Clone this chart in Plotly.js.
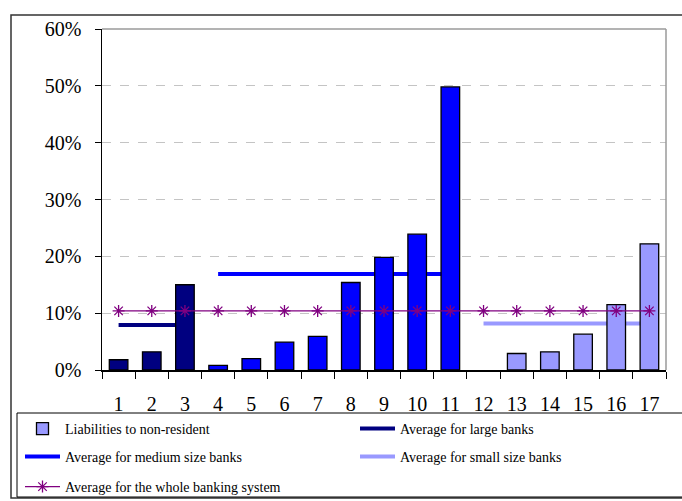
<!DOCTYPE html>
<html>
<head>
<meta charset="utf-8">
<script src="https://cdn.plot.ly/plotly-3.0.1.min.js"></script>
<style>
  html, body { margin: 0; padding: 0; background: #fff; }
  #chart { width: 682px; height: 501px; }
</style>
</head>
<body>
<div id="chart"></div>
<script>
// ---- data ----
const banks = ['1','2','3','4','5','6','7','8','9','10','11','12','13','14','15','16','17'];
const largeBanks = ['1','2','3'];
const largeLiab = [0.018, 0.032, 0.150];
const mediumBanks = ['4','5','6','7','8','9','10','11'];
const mediumLiab = [0.008, 0.020, 0.049, 0.059, 0.154, 0.198, 0.239, 0.498];
const smallBanks = ['12','13','14','15','16','17'];
const smallLiab = [null, 0.029, 0.032, 0.063, 0.115, 0.222];
const avgLarge = 0.079;
const avgMedium = 0.169;
const avgSmall = 0.082;
const avgSystem = 0.104;
const seriesNames = [
  'Liabilities to non-resident',
  'Average for large banks',
  'Average for medium size banks',
  'Average for small size banks',
  'Average for the whole banking system'
];
const colors = { large: '#000080', medium: '#0000FF', small: '#9999FF', system: '#800080' };

// ---- geometry helpers (pixel -> paper) ----
const W = 682, H = 501;
const L = 102, R = 666, T = 29, B = 370;
const px = x => (x - L) / (R - L);
const py = y => (B - y) / (B - T);

const FONT = 'Liberation Serif';

const rep = (arr, v) => arr.map(() => v);
const barLine = { color: '#000', width: 1.3 };

const traces = [
  // group averages (behind bars)
  { type: 'scatter', mode: 'lines', x: largeBanks, y: rep(largeBanks, avgLarge),
    name: seriesNames[1], line: { color: colors.large, width: 4 }, legend: 'legend2',
    xaxis: 'x', yaxis: 'y', hoverinfo: 'skip' },
  { type: 'scatter', mode: 'lines', x: mediumBanks, y: rep(mediumBanks, avgMedium),
    name: seriesNames[2], line: { color: colors.medium, width: 4 }, legend: 'legend3',
    xaxis: 'x', yaxis: 'y', hoverinfo: 'skip' },
  { type: 'scatter', mode: 'lines', x: smallBanks, y: rep(smallBanks, avgSmall),
    name: seriesNames[3], line: { color: colors.small, width: 4 }, legend: 'legend4',
    xaxis: 'x', yaxis: 'y', hoverinfo: 'skip' },
  // bars
  { type: 'bar', x: largeBanks, y: largeLiab, width: 0.56, name: seriesNames[0], showlegend: false,
    marker: { color: colors.large, line: barLine }, xaxis: 'x2', yaxis: 'y2' },
  { type: 'bar', x: mediumBanks, y: mediumLiab, width: 0.56, name: seriesNames[0], showlegend: false,
    marker: { color: colors.medium, line: barLine }, xaxis: 'x2', yaxis: 'y2' },
  { type: 'bar', x: smallBanks, y: smallLiab, width: 0.56, name: seriesNames[0], legend: 'legend',
    marker: { color: colors.small, line: barLine }, xaxis: 'x2', yaxis: 'y2' },
  // whole system average (on top)
  { type: 'scatter', mode: 'lines+markers', x: banks, y: rep(banks, avgSystem),
    name: seriesNames[4], legend: 'legend5',
    line: { color: colors.system, width: 1.3 },
    marker: { symbol: 'asterisk-open', size: 10, color: colors.system, line: { color: colors.system, width: 1.3 } },
    xaxis: 'x3', yaxis: 'y3', hoverinfo: 'skip' }
];

const xrange = [-0.5, banks.length - 0.5];
const yrange = [0, 0.6];

const overlayX = { type: 'category', categoryorder: 'array', categoryarray: banks, range: xrange,
  visible: false, fixedrange: true };
const overlayY = { range: yrange, visible: false, fixedrange: true };

function legendAt(x, y) {
  return { x: px(x), y: py(y), xanchor: 'left', yanchor: 'middle', orientation: 'h',
    bgcolor: 'rgba(0,0,0,0)', borderwidth: 0, itemwidth: 35,
    font: { family: FONT, size: 14, color: '#000' } };
}

const layout = {
  width: W, height: H,
  margin: { l: L, r: W - R, t: T, b: H - B, pad: 0, autoexpand: false },
  paper_bgcolor: '#fff', plot_bgcolor: '#fff',
  showlegend: true,
  barmode: 'overlay',
  font: { family: FONT, size: 20, color: '#000' },
  xaxis: {
    type: 'category', categoryorder: 'array', categoryarray: banks, range: xrange,
    tickson: 'boundaries', ticks: 'outside', ticklen: 7, tickwidth: 1, tickcolor: '#000',
    showline: true, linecolor: '#000', linewidth: 1.5, showgrid: false, zeroline: false,
    tickfont: { family: FONT, size: 20, color: '#000' }, ticklabelstandoff: 15, fixedrange: true
  },
  yaxis: {
    range: yrange, dtick: 0.1, tick0: 0, tickformat: '.0%',
    ticks: 'outside', ticklen: 6, tickwidth: 1, tickcolor: '#000',
    showline: true, linecolor: '#000', linewidth: 1.5,
    showgrid: true, gridcolor: '#c4c4c4', griddash: 'dash', gridwidth: 1, zeroline: false,
    tickfont: { family: FONT, size: 20, color: '#000' }, ticklabelstandoff: 9, fixedrange: true
  },
  xaxis2: Object.assign({ overlaying: 'x' }, overlayX),
  yaxis2: Object.assign({ overlaying: 'y' }, overlayY),
  xaxis3: Object.assign({ overlaying: 'x' }, overlayX),
  yaxis3: Object.assign({ overlaying: 'y' }, overlayY),
  legend: legendAt(20, 429),
  legend2: legendAt(355, 429),
  legend3: legendAt(20, 457),
  legend4: legendAt(355, 457),
  legend5: legendAt(20, 487),
  shapes: [
    // plot frame: top & right (gray)
    { type: 'line', xref: 'paper', yref: 'paper', x0: 0, x1: 1, y0: 1, y1: 1,
      line: { color: '#9a9a9a', width: 1.5 }, layer: 'above' },
    { type: 'line', xref: 'paper', yref: 'paper', x0: 1, x1: 1, y0: 0, y1: 1,
      line: { color: '#9a9a9a', width: 1.5 }, layer: 'above' },
    // outer chart frame
    { type: 'rect', xref: 'paper', yref: 'paper', x0: px(11), x1: px(720), y0: py(498), y1: py(15),
      line: { color: '#333', width: 1.5 }, fillcolor: 'rgba(0,0,0,0)', layer: 'below' },
    // legend box
    { type: 'rect', xref: 'paper', yref: 'paper', x0: px(17), x1: px(720), y0: py(497), y1: py(413),
      line: { color: '#000', width: 1 }, fillcolor: 'rgba(0,0,0,0)', layer: 'below' }
  ]
};

Plotly.newPlot('chart', traces, layout, { staticPlot: true, displayModeBar: false });
</script>
</body>
</html>
